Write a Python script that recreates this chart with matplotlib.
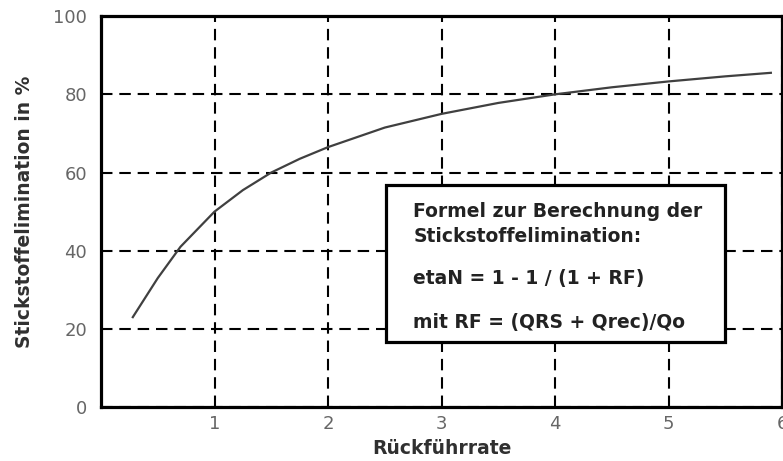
import numpy as np
import matplotlib.pyplot as plt

# values
rf = [0.28, 0.5, 0.7, 1.0, 1.25, 1.5, 1.75, 2.0, 2.5, 3.0, 3.5, 4.0, 4.5, 5.0, 5.5, 5.9]
eta = [23, 33, 41, 50, 55.5, 60, 63.5, 66.5, 71.5, 75, 77.8, 80, 81.8, 83.3, 84.6, 85.5]

x_ticks = [1, 2, 3, 4, 5, 6]
y_ticks = [0, 20, 40, 60, 80, 100]

formel = ['Formel zur Berechnung der',
          'Stickstoffelimination:',
          'etaN = 1 - 1 / (1 + RF)',
          'mit RF = (QRS + Qrec)/Qo']
formel_y = [48.6, 42.2, 31.5, 20.2]

plt.rcParams['font.family'] = ['DejaVu Sans']

fig = plt.figure(figsize=(7.83, 4.61), dpi=100)
ax = fig.add_axes([0.129, 0.117, 0.870, 0.848])

ax.plot(rf, eta, color='#404040', lw=1.6)

ax.set_xlim(0, 6)
ax.set_ylim(0, 100)
ax.set_xticks(x_ticks)
ax.set_yticks(y_ticks)
ax.tick_params(length=0, labelsize=13, labelcolor='#666666')
ax.tick_params(axis='y', pad=10)
ax.tick_params(axis='x', pad=6)
ax.grid(True, color='black', linestyle=(0, (5.5, 3.3)), lw=1.5)

for s in ax.spines.values():
    s.set_linewidth(2.3)
    s.set_color('black')

ax.set_xlabel('Rückführrate', fontsize=13.5, fontweight='bold', color='#303030', labelpad=4)
ax.set_ylabel('Stickstoffelimination in %', fontsize=13.5, fontweight='bold', color='#303030', labelpad=14)

# formula box
box = plt.Rectangle((2.51, 16.6), 2.99, 40.2, facecolor='white', edgecolor='black',
                    lw=2.3, zorder=5)
ax.add_patch(box)
for txt, yy in zip(formel, formel_y):
    ax.text(2.75, yy, txt, fontsize=13.5, fontweight='bold', color='#222222',
            zorder=6, va='baseline')

fig.savefig('out.png', dpi=100)
